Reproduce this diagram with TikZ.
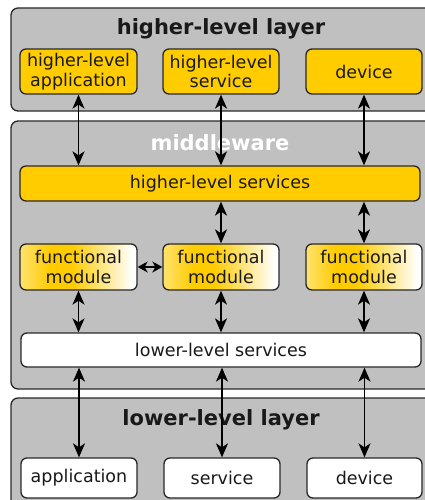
\documentclass[tikz,border=0pt]{standalone}
\usepackage{fontspec}
\setmainfont{DejaVu Sans}
\usetikzlibrary{arrows.meta}
\definecolor{lgray}{RGB}{192,192,192}
\definecolor{gold}{RGB}{255,204,0}
\definecolor{fmlight}{RGB}{255,226,110}
\definecolor{edge}{RGB}{40,40,40}
\definecolor{txt}{RGB}{25,25,25}
\pgfdeclarehorizontalshading{fmshade}{100bp}{color(0bp)=(fmlight); color(25bp)=(fmlight); color(38bp)=(gold); color(47bp)=(gold); color(73bp)=(white); color(100bp)=(white)}
\tikzset{
  layerbox/.style={draw=edge, fill=lgray, rounded corners=7pt, line width=1.3pt},
  boxbase/.style={draw=edge, rounded corners=6pt, line width=1.3pt, align=center, inner sep=0pt,
    text=txt, font=\fontsize{17.5}{19.5}\selectfont},
  goldbox/.style={boxbase, fill=gold},
  whitebox/.style={boxbase, fill=white},
  fmbox/.style={boxbase, shading=fmshade},
  title/.style={font=\fontsize{21}{24}\selectfont\bfseries},
  link/.style={{Stealth[length=14pt,width=12pt,inset=4pt]}-{Stealth[length=14pt,width=12pt,inset=4pt]}, line width=1.7pt, black},
  shortlink/.style={{Stealth[length=10pt,width=11pt,inset=3pt]}-{Stealth[length=10pt,width=11pt,inset=3pt]}, line width=1.7pt, black}
}
\begin{document}
\begin{tikzpicture}[x=1pt,y=-1pt]
\path[use as bounding box] (0,0) rectangle (425,500);
\clip (0,0) rectangle (425,500);
\fill[white] (0,0) rectangle (425,500);
% layers
\draw[layerbox] (11,8) rectangle (434,111);
\draw[layerbox] (11,121) rectangle (434,389);
\draw[layerbox] (11,398) rectangle (434,512);
\node[title, text=txt] (tH) at (221,29) {higher-level layer};
\node[title, text=white] (tM) at (220,143) {middleware};
\node[title, text=txt] (tL) at (221,420) {lower-level layer};
% higher-level layer
\node[goldbox, minimum width=117pt, minimum height=45pt] (ha) at (78.5,71.5) {higher-level\\application};
\node[goldbox, minimum width=116pt, minimum height=45pt] (hs) at (221,71.5) {higher-level\\service};
\node[goldbox, minimum width=116pt, minimum height=45pt] (hd) at (364,71.5) {device};
% middleware
\node[goldbox, minimum width=400pt, minimum height=35pt] (hls) at (220,183.5) {higher-level services};
\node[fmbox, minimum width=117pt, minimum height=46pt] (f1) at (78.5,267) {functional\\module};
\node[fmbox, minimum width=116pt, minimum height=46pt] (f2) at (221,267) {functional\\module};
\node[fmbox, minimum width=116pt, minimum height=46pt] (f3) at (364,267) {functional\\module};
\node[whitebox, minimum width=400pt, minimum height=34pt] (lls) at (221,350) {lower-level services};
% lower-level layer
\node[whitebox, minimum width=116pt, minimum height=40pt] (la) at (79,478) {application};
\node[whitebox, minimum width=116pt, minimum height=40pt] (ls) at (222,478) {service};
\node[whitebox, minimum width=115pt, minimum height=40pt] (ld) at (364.5,478) {device};
% connectors
\draw[link] (ha.south) -- (ha.south |- hls.north);
\draw[link] (hs.south) -- (hs.south |- hls.north);
\draw[link] (hd.south) -- (hd.south |- hls.north);
\draw[link] (f2.north |- hls.south) -- (f2.north);
\draw[link] (f3.north |- hls.south) -- (f3.north);
\draw[shortlink] (f1.east) -- (f2.west);
\draw[link] (f1.south) -- (f1.south |- lls.north);
\draw[link] (f2.south) -- (f2.south |- lls.north);
\draw[link] (f3.south) -- (f3.south |- lls.north);
\draw[link] (la.north |- lls.south) -- (la.north);
\draw[link] (ls.north |- lls.south) -- (ls.north);
\draw[link] (ld.north |- lls.south) -- (ld.north);
\end{tikzpicture}
\end{document}
